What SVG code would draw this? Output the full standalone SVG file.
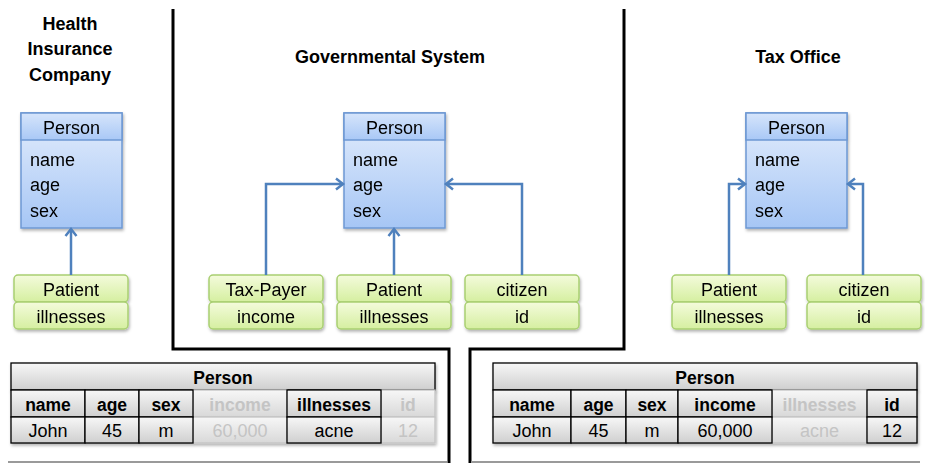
<svg xmlns="http://www.w3.org/2000/svg" width="925" height="463" viewBox="0 0 925 463">
<defs>
<linearGradient id="gBody" x1="0" y1="0" x2="0" y2="1"><stop offset="0" stop-color="#e3edfc"/><stop offset="1" stop-color="#a6c6f5"/></linearGradient>
<linearGradient id="gHead" x1="0" y1="0" x2="0" y2="1"><stop offset="0" stop-color="#d6e5fb"/><stop offset="1" stop-color="#a9c8f6"/></linearGradient>
<linearGradient id="gGreen" x1="0" y1="0" x2="0" y2="1"><stop offset="0" stop-color="#f4fbdc"/><stop offset="1" stop-color="#d5efa0"/></linearGradient>
<linearGradient id="gCell" x1="0" y1="0" x2="0" y2="1"><stop offset="0" stop-color="#f7f7f7"/><stop offset="1" stop-color="#cfcfcf"/></linearGradient>
<linearGradient id="gCellG" x1="0" y1="0" x2="0" y2="1"><stop offset="0" stop-color="#f7f7f7"/><stop offset="1" stop-color="#d8d8d8"/></linearGradient>
<filter id="sh" x="-10%" y="-10%" width="120%" height="130%"><feDropShadow dx="1" dy="2" stdDeviation="1.5" flood-color="#000" flood-opacity="0.3"/></filter>
<marker id="arr" markerUnits="userSpaceOnUse" markerWidth="14" markerHeight="14" viewBox="0 0 14 14" refX="11" refY="7" orient="auto"><path d="M4,1.5 L11,7 L4,12.5" fill="none" stroke="#4f81bd" stroke-width="2.5"/></marker>
</defs>
<style>
text{font-family:"Liberation Sans",Arial,sans-serif;fill:#000}
.title{font-weight:bold;font-size:18px;text-anchor:middle}
.cls{font-size:18px}
.ctr{text-anchor:middle}
.uml rect{stroke:#6d98d3;stroke-width:1.5}
.grn rect{fill:url(#gGreen);stroke:#a9cf72;stroke-width:1.5}
.conn path{fill:none;stroke:#4f81bd;stroke-width:2.5;marker-end:url(#arr)}
.cell{fill:url(#gCell);stroke:#000;stroke-width:1.3}
.cellg{fill:url(#gCellG);stroke:#c4c4c4;stroke-width:1.3}
.th{font-weight:bold;font-size:17.5px;text-anchor:middle}
.td{font-size:18px;text-anchor:middle}
.g{fill:#c4c4c4}
.frame{fill:none;stroke:#000;stroke-width:3}
.base{stroke:#9a9a9a;stroke-width:2}
</style>

<!-- frames -->
<g id="frames">
<path class="frame" d="M173,9 V349 H449 V463"/>
<path class="frame" d="M624,9 V349 H470 V463"/>
<line class="base" x1="8" y1="462" x2="447" y2="462"/>
<line class="base" x1="471" y1="462" x2="920" y2="462"/>
</g>

<!-- titles -->
<g id="titles">
<text class="title" x="70" y="30">Health</text>
<text class="title" x="70" y="55">Insurance</text>
<text class="title" x="70" y="81">Company</text>
<text class="title" x="390" y="63">Governmental System</text>
<text class="title" x="798" y="63">Tax Office</text>
</g>

<!-- UML Person classes -->
<g id="person-hic" class="uml" filter="url(#sh)">
<rect x="21" y="113" width="101" height="115" fill="url(#gBody)"/>
<rect x="21" y="113" width="101" height="27" fill="url(#gHead)"/>
<text class="cls ctr" x="71.5" y="134">Person</text>
<text class="cls" x="30" y="166">name</text>
<text class="cls" x="30" y="191">age</text>
<text class="cls" x="30" y="217">sex</text>
</g>
<g id="person-gov" class="uml" filter="url(#sh)">
<rect x="344" y="113" width="101" height="115" fill="url(#gBody)"/>
<rect x="344" y="113" width="101" height="27" fill="url(#gHead)"/>
<text class="cls ctr" x="394.5" y="134">Person</text>
<text class="cls" x="353" y="166">name</text>
<text class="cls" x="353" y="191">age</text>
<text class="cls" x="353" y="217">sex</text>
</g>
<g id="person-tax" class="uml" filter="url(#sh)">
<rect x="746" y="113" width="101" height="115" fill="url(#gBody)"/>
<rect x="746" y="113" width="101" height="27" fill="url(#gHead)"/>
<text class="cls ctr" x="796.5" y="134">Person</text>
<text class="cls" x="755" y="166">name</text>
<text class="cls" x="755" y="191">age</text>
<text class="cls" x="755" y="217">sex</text>
</g>

<!-- green role boxes -->
<g id="patient-hic" class="grn" filter="url(#sh)">
<rect x="14" y="275" width="114" height="27" rx="4"/>
<rect x="14" y="302" width="114" height="27" rx="4"/>
<text class="cls ctr" x="71" y="296">Patient</text>
<text class="cls ctr" x="71" y="323">illnesses</text>
</g>
<g id="taxpayer-gov" class="grn" filter="url(#sh)">
<rect x="209" y="275" width="114" height="27" rx="4"/>
<rect x="209" y="302" width="114" height="27" rx="4"/>
<text class="cls ctr" x="266" y="296">Tax-Payer</text>
<text class="cls ctr" x="266" y="323">income</text>
</g>
<g id="patient-gov" class="grn" filter="url(#sh)">
<rect x="337" y="275" width="114" height="27" rx="4"/>
<rect x="337" y="302" width="114" height="27" rx="4"/>
<text class="cls ctr" x="394" y="296">Patient</text>
<text class="cls ctr" x="394" y="323">illnesses</text>
</g>
<g id="citizen-gov" class="grn" filter="url(#sh)">
<rect x="465" y="275" width="114" height="27" rx="4"/>
<rect x="465" y="302" width="114" height="27" rx="4"/>
<text class="cls ctr" x="522" y="296">citizen</text>
<text class="cls ctr" x="522" y="323">id</text>
</g>
<g id="patient-tax" class="grn" filter="url(#sh)">
<rect x="672" y="275" width="114" height="27" rx="4"/>
<rect x="672" y="302" width="114" height="27" rx="4"/>
<text class="cls ctr" x="729" y="296">Patient</text>
<text class="cls ctr" x="729" y="323">illnesses</text>
</g>
<g id="citizen-tax" class="grn" filter="url(#sh)">
<rect x="807" y="275" width="114" height="27" rx="4"/>
<rect x="807" y="302" width="114" height="27" rx="4"/>
<text class="cls ctr" x="864" y="296">citizen</text>
<text class="cls ctr" x="864" y="323">id</text>
</g>

<!-- connectors -->
<g id="connectors" class="conn">
<path d="M71,275 V229"/>
<path d="M266,275 V184 H343"/>
<path d="M394,275 V229"/>
<path d="M522,275 V184 H446"/>
<path d="M729,275 V184 H745"/>
<path d="M863,275 V184 H848"/>
</g>

<!-- left table -->
<g id="table-hic">
<g filter="url(#sh)">
<rect class="cell" x="11" y="363" width="424" height="27"/>
</g>
<text class="th" x="223" y="384">Person</text>
<g filter="url(#sh)">
<rect class="cellg" x="193" y="390" width="94" height="27"/>
<rect class="cellg" x="381" y="390" width="54" height="27"/>
<rect class="cellg" x="193" y="417" width="94" height="26"/>
<rect class="cellg" x="381" y="417" width="54" height="26"/>
<rect class="cell" x="11" y="390" width="74" height="27"/>
<rect class="cell" x="85" y="390" width="54" height="27"/>
<rect class="cell" x="139" y="390" width="54" height="27"/>
<rect class="cell" x="287" y="390" width="94" height="27"/>
<rect class="cell" x="11" y="417" width="74" height="26"/>
<rect class="cell" x="85" y="417" width="54" height="26"/>
<rect class="cell" x="139" y="417" width="54" height="26"/>
<rect class="cell" x="287" y="417" width="94" height="26"/>
</g>
<text class="th" x="48" y="411">name</text>
<text class="th" x="112" y="411">age</text>
<text class="th" x="166" y="411">sex</text>
<text class="th g" x="240" y="411">income</text>
<text class="th" x="334" y="411">illnesses</text>
<text class="th g" x="408" y="411">id</text>
<text class="td" x="48" y="437">John</text>
<text class="td" x="112" y="437">45</text>
<text class="td" x="166" y="437">m</text>
<text class="td g" x="240" y="437">60,000</text>
<text class="td" x="334" y="437">acne</text>
<text class="td g" x="408" y="437">12</text>
</g>

<!-- right table -->
<g id="table-tax">
<g filter="url(#sh)">
<rect class="cell" x="493" y="363" width="424" height="27"/>
</g>
<text class="th" x="705" y="384">Person</text>
<g filter="url(#sh)">
<rect class="cellg" x="772" y="390" width="95" height="27"/>
<rect class="cellg" x="772" y="417" width="95" height="26"/>
<rect class="cell" x="493" y="390" width="78" height="27"/>
<rect class="cell" x="571" y="390" width="55" height="27"/>
<rect class="cell" x="626" y="390" width="52" height="27"/>
<rect class="cell" x="678" y="390" width="94" height="27"/>
<rect class="cell" x="867" y="390" width="50" height="27"/>
<rect class="cell" x="493" y="417" width="78" height="26"/>
<rect class="cell" x="571" y="417" width="55" height="26"/>
<rect class="cell" x="626" y="417" width="52" height="26"/>
<rect class="cell" x="678" y="417" width="94" height="26"/>
<rect class="cell" x="867" y="417" width="50" height="26"/>
</g>
<text class="th" x="532" y="411">name</text>
<text class="th" x="598.5" y="411">age</text>
<text class="th" x="652" y="411">sex</text>
<text class="th" x="725" y="411">income</text>
<text class="th g" x="819.5" y="411">illnesses</text>
<text class="th" x="892" y="411">id</text>
<text class="td" x="532" y="437">John</text>
<text class="td" x="598.5" y="437">45</text>
<text class="td" x="652" y="437">m</text>
<text class="td" x="725" y="437">60,000</text>
<text class="td g" x="819.5" y="437">acne</text>
<text class="td" x="892" y="437">12</text>
</g>
</svg>
